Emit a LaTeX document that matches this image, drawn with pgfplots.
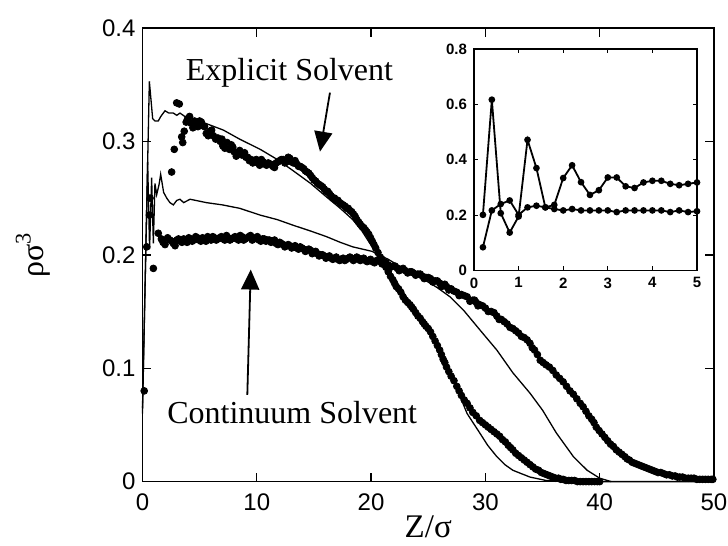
\documentclass[border=0pt]{standalone}
\usepackage{fontspec}
\setmainfont{Liberation Sans}
\newfontfamily\seriffont{Liberation Serif}
\usepackage{pgfplots}
\pgfplotsset{compat=1.18}
\usetikzlibrary{arrows.meta}

\begin{document}
\begin{tikzpicture}
\begin{axis}[
  at={(0pt,0pt)}, anchor=south west,
  width=285.75pt, height=226.8pt, scale only axis,
  xmin=0, xmax=50, ymin=0, ymax=0.4,
  xtick={0,10,20,30,40,50}, ytick={0,0.1,0.2,0.3,0.4},
  tick align=inside, xtick pos=both, ytick pos=both,
  major tick length=4.5pt,
  axis line style={line width=0.85pt},
  every tick/.style={line width=0.7pt, black},
  tick label style={font=\fontsize{12}{14}\selectfont},
  /pgf/number format/assume math mode=true,
  xticklabel style={yshift=-2.5pt},
  yticklabel style={/pgf/number format/fixed},
  xlabel={\seriffont Z/σ},
  xlabel style={at={(axis description cs:0.5,-0.1243)}, anchor=base, font=\fontsize{16.5}{19}\selectfont},
  ylabel={\seriffont ρσ\textsuperscript{3}},
  ylabel style={at={(axis description cs:-0.1916,0.5)}, anchor=center, font=\fontsize{16}{19}\selectfont},
  clip=false,
  dots/.style={only marks, mark=*, mark size=1.7pt, black},
]
% near-wall dots
\addplot[dots] table {
0.15 0.080
0.37 0.207
0.60 0.235
0.66 0.250
0.95 0.188
};
% explicit solvent simulation
\addplot[dots] table {
2.55 0.273
2.78 0.293
2.99 0.334
3.22 0.333
3.43 0.304
3.52 0.299
3.82 0.317
4.12 0.322
4.41 0.312
4.7 0.316
5.0 0.318
5.25 0.314
5.43 0.313
5.58 0.307
5.9 0.309
6.2 0.305
6.6 0.303
6.8 0.300
7.03 0.296
7.4 0.299
7.77 0.297
8.0 0.291
8.2 0.287
8.5 0.292
8.93 0.290
9.2 0.286
9.5 0.284
9.8 0.283
10.1 0.281
10.4 0.284
10.7 0.280
11.0 0.281
11.4 0.278
11.7 0.281
12.0 0.283
12.3 0.284
12.6 0.282
12.9 0.285
13.2 0.281
13.5 0.280
13.8 0.278
14.1 0.276
14.4 0.273
14.7 0.270
15.0 0.266
15.3 0.263
15.6 0.261
15.9 0.258
16.2 0.256
16.5 0.252
16.8 0.250
17.1 0.248
17.4 0.245
17.7 0.243
18.0 0.241
18.3 0.238
18.6 0.234
18.9 0.229
19.2 0.225
19.5 0.222
19.8 0.218
20.1 0.212
20.4 0.206
20.8 0.198
21.1 0.193
21.5 0.185
21.9 0.178
22.2 0.172
22.6 0.167
23.0 0.160
23.4 0.156
23.7 0.152
24.1 0.146
24.5 0.141
24.8 0.137
25.2 0.132
25.6 0.124
26.0 0.116
26.3 0.108
26.6 0.101
27.0 0.093
27.5 0.084
27.9 0.076
28.4 0.069
28.9 0.061
29.5 0.054
30.0 0.050
30.5 0.046
31.0 0.042
31.5 0.037
32.0 0.032
32.4 0.028
32.9 0.023
33.4 0.019
33.9 0.015
34.4 0.011
34.9 0.008
35.4 0.006
35.9 0.004
36.4 0.003
36.8 0.002
37.3 0.001
37.8 0.001
38.3 0.000
38.8 0.000
39.3 0.000
39.8 0.000
};
\addplot[dots] table {
3.65 0.309
3.95 0.320
4.25 0.316
4.55 0.318
4.85 0.313
5.15 0.317
5.75 0.305
6.05 0.310
6.4 0.302
6.95 0.302
7.2 0.294
7.6 0.293
7.9 0.295
8.35 0.289
8.7 0.288
9.05 0.286
9.35 0.283
9.65 0.281
9.95 0.284
10.25 0.279
10.55 0.282
10.85 0.279
11.2 0.280
11.55 0.277
11.85 0.282
12.15 0.284
12.45 0.281
12.75 0.286
13.05 0.282
13.35 0.283
13.65 0.278
13.95 0.277
14.25 0.274
14.55 0.272
14.85 0.268
15.15 0.265
15.45 0.262
15.75 0.260
16.05 0.256
16.35 0.254
16.65 0.250
16.95 0.248
17.25 0.246
17.55 0.244
17.85 0.241
18.15 0.239
18.45 0.236
18.75 0.231
19.05 0.227
19.35 0.224
19.65 0.220
19.95 0.215
20.25 0.209
20.6 0.202
20.95 0.196
21.3 0.189
21.7 0.181
22.05 0.175
22.4 0.170
22.8 0.163
23.2 0.158
23.55 0.154
23.9 0.149
24.3 0.144
24.65 0.139
25.0 0.135
25.4 0.128
25.8 0.120
26.15 0.112
26.45 0.105
26.8 0.097
27.25 0.089
27.7 0.080
28.15 0.072
28.65 0.065
29.2 0.058
29.75 0.052
30.25 0.048
30.75 0.044
31.25 0.040
31.75 0.035
32.2 0.030
32.65 0.025
33.15 0.021
33.65 0.017
34.15 0.013
34.65 0.010
35.15 0.007
35.65 0.005
36.15 0.003
36.6 0.002
37.05 0.001
37.55 0.001
38.05 0.000
38.55 0.000
39.05 0.000
39.55 0.000
40.0 0.000
};
% continuum solvent simulation
\addplot[dots] table {
1.38 0.219
1.65 0.214
1.97 0.209
2.2 0.215
2.4 0.213
2.7 0.210
3.0 0.213
3.3 0.212
3.6 0.214
3.9 0.211
4.2 0.214
4.5 0.213
4.8 0.215
5.1 0.212
5.4 0.214
5.7 0.216
6.0 0.213
6.3 0.215
6.6 0.214
6.9 0.216
7.2 0.213
7.5 0.215
7.8 0.214
8.1 0.216
8.4 0.213
8.7 0.216
9.0 0.214
9.3 0.216
9.6 0.213
9.9 0.215
10.2 0.213
10.5 0.214
10.8 0.212
11.1 0.213
11.4 0.212
11.7 0.210
12.0 0.211
12.3 0.209
12.6 0.208
12.9 0.208
13.2 0.207
13.5 0.206
13.8 0.207
14.1 0.205
14.4 0.204
14.7 0.204
15.0 0.202
15.3 0.201
15.6 0.200
15.9 0.199
16.2 0.198
16.5 0.197
16.8 0.197
17.1 0.196
17.4 0.196
17.7 0.195
18.0 0.197
18.3 0.197
18.6 0.196
18.9 0.197
19.2 0.196
19.5 0.195
19.8 0.195
20.1 0.194
20.5 0.195
20.8 0.194
21.1 0.192
21.5 0.191
21.9 0.190
22.3 0.188
22.6 0.187
23.0 0.186
23.4 0.185
23.7 0.184
24.1 0.183
24.5 0.181
24.8 0.180
25.2 0.179
25.6 0.177
26.0 0.175
26.3 0.173
26.6 0.172
27.0 0.170
27.5 0.167
27.9 0.165
28.4 0.163
28.9 0.160
29.2 0.158
29.5 0.156
30.0 0.153
30.5 0.150
31.0 0.146
31.4 0.143
31.9 0.139
32.4 0.135
32.9 0.131
33.4 0.127
33.9 0.122
34.3 0.116
34.8 0.107
35.3 0.103
35.9 0.098
36.5 0.091
37.1 0.084
37.7 0.077
38.3 0.069
38.8 0.062
39.3 0.055
39.7 0.048
40.2 0.042
40.7 0.036
41.2 0.031
41.7 0.026
42.2 0.022
42.6 0.019
43.1 0.016
43.6 0.014
44.1 0.012
44.6 0.010
45.1 0.008
45.6 0.007
46.1 0.006
46.6 0.005
47.0 0.004
47.5 0.003
48.0 0.003
48.5 0.002
49.0 0.002
49.5 0.002
49.9 0.002
};
\addplot[dots] table {
1.8 0.211
2.55 0.212
2.85 0.208
3.15 0.214
3.45 0.211
3.75 0.213
4.05 0.215
4.35 0.212
4.65 0.216
4.95 0.213
5.25 0.215
5.55 0.212
5.85 0.214
6.15 0.216
6.45 0.213
6.75 0.215
7.05 0.214
7.35 0.217
7.65 0.213
7.95 0.215
8.25 0.214
8.55 0.217
8.85 0.213
9.15 0.215
9.45 0.217
9.75 0.214
10.05 0.216
10.35 0.212
10.65 0.214
10.95 0.213
11.25 0.211
11.55 0.213
11.85 0.209
12.15 0.210
12.45 0.207
12.75 0.209
13.05 0.206
13.35 0.208
13.65 0.205
13.95 0.206
14.25 0.203
14.55 0.205
14.85 0.201
15.15 0.203
15.45 0.199
15.75 0.200
16.05 0.197
16.35 0.199
16.65 0.196
16.95 0.198
17.25 0.195
17.55 0.197
17.85 0.196
18.15 0.198
18.45 0.195
18.75 0.198
19.05 0.195
19.35 0.197
19.65 0.194
19.95 0.196
20.3 0.193
20.65 0.195
20.95 0.192
21.3 0.193
21.7 0.189
22.1 0.190
22.45 0.186
22.8 0.188
23.2 0.184
23.55 0.185
23.9 0.182
24.3 0.183
24.65 0.179
25.0 0.180
25.4 0.176
25.8 0.177
26.15 0.172
26.45 0.174
26.8 0.169
27.25 0.168
27.7 0.164
28.15 0.164
28.65 0.159
29.05 0.160
29.35 0.155
29.75 0.155
30.25 0.150
30.75 0.149
31.2 0.143
31.65 0.141
32.15 0.136
32.65 0.133
33.15 0.128
33.65 0.125
34.1 0.118
34.55 0.112
35.05 0.105
35.6 0.101
36.2 0.094
36.8 0.088
37.4 0.080
38.0 0.073
38.55 0.066
39.05 0.058
39.5 0.052
39.95 0.045
40.45 0.039
40.95 0.033
41.45 0.028
41.95 0.024
42.4 0.020
42.85 0.017
43.35 0.015
43.85 0.013
44.35 0.011
44.85 0.009
45.35 0.008
45.85 0.006
46.35 0.005
46.8 0.004
47.25 0.004
47.75 0.003
48.25 0.003
48.75 0.002
49.25 0.002
49.75 0.002
};
% explicit solvent theory
\addplot[line width=0.65pt, no marks] table {
0 0.065
0.6 0.353
0.89 0.320
1.1 0.318
1.38 0.318
1.6 0.322
1.97 0.327
2.3 0.325
2.7 0.325
3.0 0.323
3.28 0.325
3.7 0.322
4.16 0.321
5.5 0.316
7.07 0.310
8.5 0.302
10.3 0.293
11.8 0.284
13.2 0.274
14.7 0.263
16.1 0.251
17.3 0.241
18.4 0.231
19.2 0.221
19.9 0.210
20.5 0.202
21.5 0.188
22.3 0.175
23.0 0.164
24.0 0.148
25.0 0.132
25.8 0.119
26.6 0.105
27.5 0.082
28.4 0.060
29.5 0.043
30.2 0.032
31.0 0.022
31.7 0.015
32.4 0.010
33.9 0.004
35.3 0.001
37.0 0.000
50.0 0.000
};
% continuum solvent theory
\addplot[line width=0.65pt, no marks] table {
0 0.06
0.45 0.282
0.62 0.205
0.8 0.268
0.95 0.210
1.09 0.263
1.24 0.253
1.45 0.262
1.59 0.271
1.85 0.255
2.12 0.250
2.4 0.246
2.7 0.244
3.0 0.248
3.28 0.249
3.6 0.246
4.16 0.249
5.6 0.246
7.0 0.244
8.5 0.241
10.3 0.235
11.8 0.231
13.2 0.226
14.7 0.221
16.1 0.216
17.3 0.211
18.4 0.207
20.1 0.203
21.5 0.196
23.0 0.187
24.5 0.179
25.8 0.171
26.9 0.163
28.1 0.151
29.5 0.134
31.0 0.116
32.4 0.096
33.9 0.078
35.0 0.063
36.2 0.043
37.7 0.022
38.9 0.010
40.0 0.003
41.0 0.000
};
\node[font=\seriffont\fontsize{16}{19}\selectfont] at (axis cs:12.86,0.3605) {Explicit Solvent};
\node[font=\seriffont\fontsize{16}{19}\selectfont] at (axis cs:13.1,0.061) {Continuum Solvent};
\draw[line width=0.9pt, -{Triangle[length=10pt,width=9pt]}] (axis cs:16.4,0.343) -- (axis cs:15.53,0.291);
\draw[line width=0.9pt, -{Triangle[length=10pt,width=9pt]}] (axis cs:9.17,0.0764) -- (axis cs:9.47,0.187);
\end{axis}

\begin{axis}[
  at={(165.75pt,105.55pt)}, anchor=south west,
  width=111.5pt, height=110.75pt, scale only axis,
  xmin=0, xmax=5, ymin=0, ymax=0.8,
  xtick={0,1,2,3,4,5}, ytick={0,0.2,0.4,0.6,0.8},
  tick align=inside, xtick pos=both, ytick pos=both,
  major tick length=2pt,
  axis line style={line width=0.7pt},
  every tick/.style={line width=0.6pt, black},
  tick label style={font=\fontsize{7.5}{9}\selectfont\bfseries},
  /pgf/number format/assume math mode=true,
  yticklabel style={/pgf/number format/fixed},
  clip=false,
]
\addplot[line width=0.9pt, mark=*, mark size=1.2pt] table {
0.2 0.201
0.4 0.617
0.6 0.207
0.8 0.137
1.0 0.195
1.2 0.472
1.4 0.370
1.6 0.228
1.8 0.237
2.0 0.334
2.2 0.380
2.4 0.319
2.6 0.273
2.8 0.290
3.0 0.336
3.2 0.336
3.4 0.304
3.6 0.298
3.8 0.318
4.0 0.324
4.2 0.324
4.4 0.313
4.6 0.308
4.8 0.313
5.0 0.318
};
\addplot[line width=0.9pt, mark=*, mark size=1.2pt] table {
0.2 0.084
0.4 0.217
0.6 0.240
0.8 0.253
1.0 0.201
1.2 0.228
1.4 0.234
1.6 0.228
1.8 0.222
2.0 0.217
2.2 0.222
2.4 0.217
2.6 0.217
2.8 0.217
3.0 0.217
3.2 0.211
3.4 0.217
3.6 0.217
3.8 0.217
4.0 0.217
4.2 0.217
4.4 0.211
4.6 0.217
4.8 0.211
5.0 0.214
};
\end{axis}
\pgfresetboundingbox
\path[use as bounding box] (-71.25pt,-32.2pt) rectangle (292.75pt,240.8pt);
\end{tikzpicture}
\end{document}
